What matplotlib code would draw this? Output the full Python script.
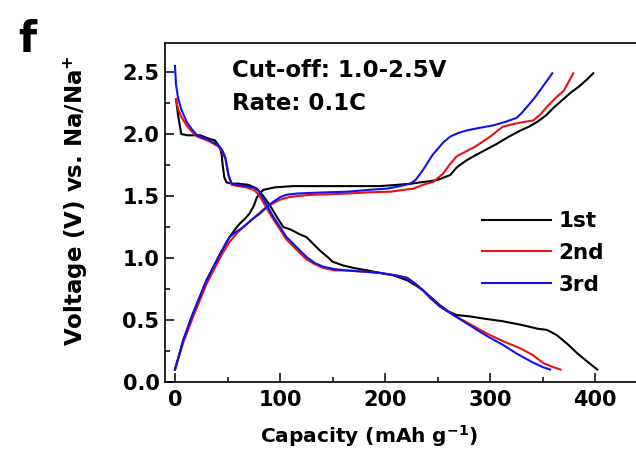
"""
Galvanostatic charge/discharge profiles for the first three cycles.
"""
import matplotlib
matplotlib.use("Agg")
import matplotlib.pyplot as plt

plt.rcParams["font.family"] = "DejaVu Sans"
plt.rcParams["font.weight"] = "bold"

# Discharge branches (capacity in mAh/g, voltage in V).
dis1_cap = [1, 3, 6, 12, 24, 27, 33, 38, 43, 44.5, 45.5, 47, 49, 54, 60, 70, 78, 84, 90, 97, 103,
            110, 119, 125, 132, 138, 145, 150, 160, 170, 183, 195, 208, 221, 229, 236, 244, 252,
            260, 268, 280, 295, 312, 330, 345, 354, 363, 373, 383, 393, 402]
dis1_v = [2.28, 2.15, 2.00, 1.99, 1.99, 1.98, 1.96, 1.95, 1.89, 1.83, 1.74, 1.65, 1.61, 1.60, 1.60,
          1.59, 1.56, 1.50, 1.43, 1.33, 1.25, 1.23, 1.19, 1.17, 1.11, 1.06, 1.01, 0.97, 0.94, 0.92,
          0.90, 0.88, 0.86, 0.82, 0.78, 0.74, 0.68, 0.62, 0.57, 0.54, 0.53, 0.51, 0.49, 0.46, 0.43,
          0.42, 0.38, 0.31, 0.23, 0.16, 0.10]

dis2_cap = [1, 3, 6, 11, 16, 21, 27, 33, 41, 45, 48, 51, 54, 60, 68, 75, 80, 86, 93, 100, 106,
            112, 119, 125, 133, 141, 152, 163, 180, 195, 210, 221, 229, 236, 244, 252, 265, 280,
            297, 312, 329, 340, 351, 360, 367]
dis2_v = [2.28, 2.20, 2.14, 2.07, 2.02, 1.98, 1.96, 1.94, 1.90, 1.86, 1.80, 1.66, 1.59, 1.58, 1.57,
          1.55, 1.51, 1.42, 1.32, 1.23, 1.15, 1.10, 1.04, 0.99, 0.95, 0.92, 0.90, 0.90, 0.89, 0.88,
          0.86, 0.84, 0.79, 0.74, 0.67, 0.61, 0.54, 0.47, 0.39, 0.33, 0.27, 0.22, 0.15, 0.12, 0.10]

dis3_cap = [0, 1, 3, 6, 11, 16, 21, 27, 33, 41, 45, 48, 51, 54, 60, 68, 75, 80, 86, 93, 100, 106,
            112, 119, 125, 133, 141, 152, 163, 180, 195, 210, 221, 229, 236, 244, 252, 265, 280,
            297, 312, 325, 340, 350, 357]
dis3_v = [2.55, 2.40, 2.29, 2.20, 2.10, 2.04, 1.99, 1.97, 1.95, 1.91, 1.87, 1.81, 1.67, 1.60, 1.59,
          1.58, 1.57, 1.54, 1.45, 1.34, 1.25, 1.17, 1.12, 1.06, 1.01, 0.96, 0.93, 0.91, 0.90, 0.89,
          0.88, 0.86, 0.84, 0.79, 0.74, 0.67, 0.61, 0.54, 0.46, 0.37, 0.30, 0.23, 0.16, 0.12, 0.10]

# Charge branches.
chg1_cap = [0, 4, 8, 17, 30, 44, 52, 58, 62, 67, 71, 75, 78, 84, 95, 112, 140, 170, 195, 211, 225,
            233, 243, 250, 262, 268, 276, 284, 295, 306, 318, 329, 337, 345, 353, 360, 368, 376,
            384, 392, 398]
chg1_v = [0.10, 0.22, 0.34, 0.55, 0.82, 1.05, 1.17, 1.24, 1.28, 1.32, 1.36, 1.42, 1.49, 1.55, 1.57,
          1.58, 1.58, 1.58, 1.58, 1.59, 1.60, 1.61, 1.62, 1.63, 1.67, 1.73, 1.78, 1.82, 1.87, 1.92,
          1.98, 2.03, 2.06, 2.10, 2.15, 2.21, 2.27, 2.33, 2.38, 2.44, 2.49]

chg2_cap = [0, 4, 8, 17, 30, 44, 52, 60, 68, 76, 84, 93, 100, 108, 116, 130, 150, 164, 185, 205,
            218, 227, 236, 246, 255, 262, 268, 277, 286, 293, 300, 312, 327, 341, 348, 354, 362,
            370, 379]
chg2_v = [0.10, 0.21, 0.32, 0.52, 0.79, 1.02, 1.13, 1.21, 1.27, 1.33, 1.39, 1.44, 1.47, 1.49, 1.50,
          1.51, 1.515, 1.52, 1.53, 1.535, 1.55, 1.56, 1.59, 1.615, 1.68, 1.76, 1.82, 1.86, 1.90,
          1.94, 1.98, 2.06, 2.09, 2.11, 2.16, 2.22, 2.29, 2.35, 2.49]

chg3_cap = [0, 4, 8, 17, 30, 44, 52, 58, 65, 73, 81, 87, 93, 100, 106, 116, 129, 145, 164, 185,
            202, 214, 224, 229, 236, 245, 255, 262, 270, 278, 290, 303, 315, 325, 330, 335, 342,
            348, 354, 359]
chg3_v = [0.10, 0.22, 0.34, 0.55, 0.82, 1.05, 1.17, 1.21, 1.25, 1.31, 1.36, 1.41, 1.45, 1.49, 1.51,
          1.52, 1.525, 1.53, 1.535, 1.55, 1.56, 1.58, 1.60, 1.63, 1.71, 1.83, 1.93, 1.98, 2.01,
          2.03, 2.05, 2.07, 2.10, 2.13, 2.17, 2.22, 2.29, 2.36, 2.43, 2.49]

cycle_labels = ["1st", "2nd", "3rd"]
cycle_colors = ["black", "#ee1111", "#1111ee"]

fig = plt.figure(figsize=(6.36, 4.53), dpi=100)
ax = fig.add_axes([0.2594, 0.1567, 0.7626, 0.7483])

branches = [
    (dis1_cap, dis1_v, chg1_cap, chg1_v),
    (dis2_cap, dis2_v, chg2_cap, chg2_v),
    (dis3_cap, dis3_v, chg3_cap, chg3_v),
]
handles = []
for (dc, dv, cc, cv), lab, col in zip(branches, cycle_labels, cycle_colors):
    h, = ax.plot(dc, dv, color=col, lw=1.5, label=lab)
    ax.plot(cc, cv, color=col, lw=1.5)
    handles.append(h)

ax.set_xlim(-9.5, 452)
ax.set_ylim(0, 2.734)
ax.set_xticks([0, 100, 200, 300, 400])
ax.set_xticks(range(50, 451, 100), minor=True)
ax.set_yticks([0.0, 0.5, 1.0, 1.5, 2.0, 2.5])
ax.set_yticks([0.25, 0.75, 1.25, 1.75, 2.25], minor=True)
ax.yaxis.set_major_formatter(matplotlib.ticker.FormatStrFormatter("%.1f"))
ax.tick_params(which="major", direction="in", length=6.5, width=1.1, labelsize=15, pad=6)
ax.tick_params(which="minor", direction="in", length=3.5, width=1.1)
ax.tick_params(axis="y", which="major", pad=4)
for s in ax.spines.values():
    s.set_linewidth(1.2)

ax.set_xlabel("Capacity (mAh g$^{\\mathbf{-1}}$)", fontsize=14.5, fontweight="bold",
              va="baseline")
ax.xaxis.set_label_coords(0.42, -0.178)
ax.set_ylabel("Voltage (V) vs. Na/Na$^{\\mathbf{+}}$", fontsize=16.5, fontweight="bold")
ax.yaxis.set_label_coords(-0.155, 0.535)

ax.text(0.138, 0.900, "Cut-off: 1.0-2.5V", transform=ax.transAxes, fontsize=16.5,
        fontweight="bold", va="baseline")
ax.text(0.138, 0.802, "Rate: 0.1C", transform=ax.transAxes, fontsize=16.5,
        fontweight="bold", va="baseline")

ax.legend(handles=handles, loc="upper left", bbox_to_anchor=(0.654, 0.504), frameon=False,
          fontsize=15.5, handlelength=3.2, handletextpad=0.33, labelspacing=0.55,
          borderpad=0, borderaxespad=0)

fig.text(0.028, 0.885, "f", fontsize=30, fontweight="bold", va="baseline")

fig.savefig("out.png", dpi=100)
